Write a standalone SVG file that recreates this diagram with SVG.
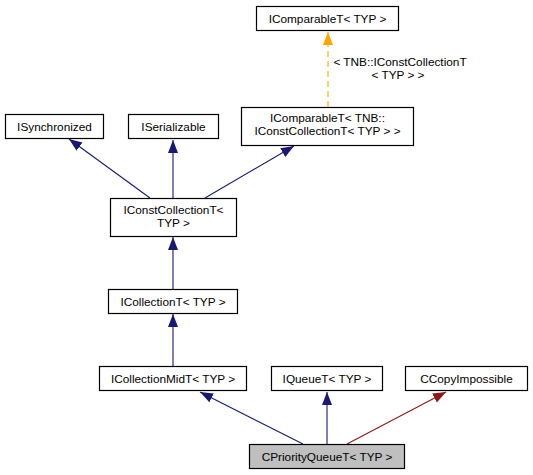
<svg xmlns="http://www.w3.org/2000/svg" width="533" height="475" viewBox="0 0 533 475">
<defs>
<style>
.n rect{fill:#fff;stroke:#000;stroke-width:1.2}
.n text{font-family:"Liberation Sans",Arial,sans-serif;font-size:11.8px;fill:#000;text-anchor:middle}
.e{fill:none;stroke-width:1.1}
.blue{stroke:#191970}
.red{stroke:#8b1a1a}
.orange{stroke:#ffa500;stroke-dasharray:6,4}
.lbl{font-family:"Liberation Sans",Arial,sans-serif;font-size:11.8px;fill:#000;text-anchor:middle}
</style>
<marker id="ab" markerWidth="14" markerHeight="12" refX="13" refY="5" orient="auto" markerUnits="userSpaceOnUse" viewBox="0 0 14 10"><path d="M0,0 L13,5 L0,10 z" fill="#191970"/></marker>
<marker id="ar" markerWidth="14" markerHeight="12" refX="13" refY="5" orient="auto" markerUnits="userSpaceOnUse" viewBox="0 0 14 10"><path d="M0,0 L13,5 L0,10 z" fill="#8b1a1a"/></marker>
<marker id="ao" markerWidth="14" markerHeight="12" refX="13" refY="5" orient="auto" markerUnits="userSpaceOnUse" viewBox="0 0 14 10"><path d="M0,0 L13,5 L0,10 z" fill="#ffa500"/></marker>
</defs>
<rect width="533" height="475" fill="#fff"/>
<g id="edges">
<line class="e orange" x1="328" y1="107" x2="328" y2="32" marker-end="url(#ao)"/>
<text class="lbl" x="400" y="66">&lt; TNB::IConstCollectionT</text>
<text class="lbl" x="398" y="79">&lt; TYP &gt; &gt;</text>
<line class="e blue" x1="150" y1="198" x2="69" y2="139" marker-end="url(#ab)"/>
<line class="e blue" x1="173" y1="198" x2="173" y2="140" marker-end="url(#ab)"/>
<line class="e blue" x1="205" y1="198" x2="294" y2="146" marker-end="url(#ab)"/>
<line class="e blue" x1="173" y1="289" x2="173" y2="237" marker-end="url(#ab)"/>
<line class="e blue" x1="173" y1="366" x2="173" y2="314" marker-end="url(#ab)"/>
<line class="e blue" x1="303" y1="444" x2="200" y2="392" marker-end="url(#ab)"/>
<line class="e blue" x1="327" y1="444" x2="327" y2="392" marker-end="url(#ab)"/>
<line class="e red" x1="347" y1="444" x2="446" y2="392" marker-end="url(#ar)"/>
</g>
<g id="n_IComparableT" class="n"><rect x="256.5" y="6.5" width="142" height="24"/><text x="327.5" y="23">IComparableT&lt; TYP &gt;</text></g>
<g id="n_IComparableT_TNB" class="n"><rect x="241.5" y="107.5" width="172" height="38"/><text x="327.5" y="122">IComparableT&lt; TNB::</text><text x="327.5" y="135">IConstCollectionT&lt; TYP &gt; &gt;</text></g>
<g id="n_ISynchronized" class="n"><rect x="5.5" y="114.5" width="98" height="24"/><text x="54.5" y="131">ISynchronized</text></g>
<g id="n_ISerializable" class="n"><rect x="128.5" y="114.5" width="90" height="24"/><text x="173.5" y="131">ISerializable</text></g>
<g id="n_IConstCollectionT" class="n"><rect x="110.5" y="198.5" width="126" height="38"/><text x="173.5" y="214">IConstCollectionT&lt;</text><text x="173.5" y="227">TYP &gt;</text></g>
<g id="n_ICollectionT" class="n"><rect x="108.5" y="289.5" width="129" height="24"/><text x="173" y="306">ICollectionT&lt; TYP &gt;</text></g>
<g id="n_ICollectionMidT" class="n"><rect x="99.5" y="366.5" width="147" height="24"/><text x="173" y="383">ICollectionMidT&lt; TYP &gt;</text></g>
<g id="n_IQueueT" class="n"><rect x="271.5" y="366.5" width="111" height="24"/><text x="327" y="383">IQueueT&lt; TYP &gt;</text></g>
<g id="n_CCopyImpossible" class="n"><rect x="405.5" y="366.5" width="122" height="24"/><text x="466.5" y="383">CCopyImpossible</text></g>
<g id="n_CPriorityQueueT" class="n"><rect x="249.5" y="444.5" width="155" height="24" style="fill:#bfbfbf"/><text x="327" y="461">CPriorityQueueT&lt; TYP &gt;</text></g>
</svg>
